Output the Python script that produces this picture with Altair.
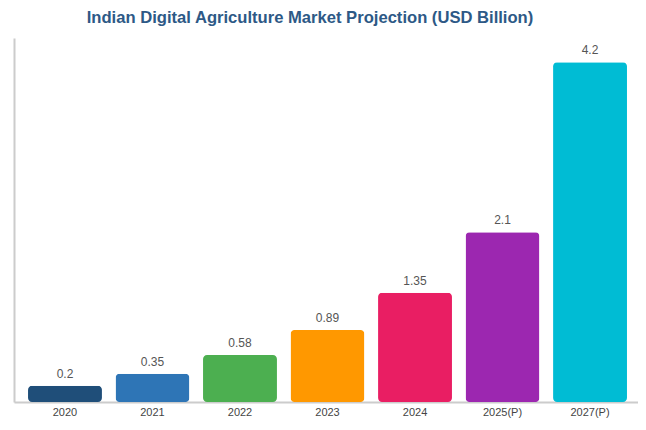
import altair as alt
import pandas as pd

years = ["2020", "2021", "2022", "2023", "2024", "2025(P)", "2027(P)"]
values = [0.2, 0.35, 0.58, 0.89, 1.35, 2.1, 4.2]
colors = ["#1f4e79", "#2e75b6", "#4caf50", "#ff9800", "#e91e63", "#9c27b0", "#00bcd4"]

df = pd.DataFrame({"year": years, "value": values, "label": [str(v) for v in values]})

FONT = "Liberation Sans"

x = alt.X("year:N", sort=years, title=None,
          scale=alt.Scale(paddingInner=0.155, paddingOuter=0.143, align=0.56),
          axis=alt.Axis(labelAngle=0, ticks=False, labelPadding=4, labelFontSize=11,
                        labelColor="#444444", labelFont=FONT, domainColor="#cccccc",
                        domainWidth=2, grid=False))
y = alt.Y("value:Q", title=None, scale=alt.Scale(domain=[0, 4.5], nice=False),
          axis=alt.Axis(labels=False, ticks=False, grid=False, domainColor="#cccccc",
                        domainWidth=2))

bars = alt.Chart(df).mark_bar(cornerRadius=4).encode(
    x=x, y=y,
    color=alt.Color("year:N", sort=years, scale=alt.Scale(domain=years, range=colors), legend=None),
)
text = alt.Chart(df).mark_text(baseline="bottom", dy=-5, fontSize=12, color="#555555", font=FONT).encode(
    x=alt.X("year:N", sort=years), y="value:Q", text="label:N"
)

chart = (bars + text).properties(
    width=624, height=364,
    padding={"left": 6, "top": 30, "right": 0, "bottom": 17},
    autosize=alt.AutoSizeParams(type="none"),
    title=alt.TitleParams("Indian Digital Agriculture Market Projection (USD Billion)",
                          font=FONT, fontSize=16.6, fontWeight="bold", color="#2d5986",
                          anchor="middle", dx=-16, offset=11),
).configure_view(stroke=None)

chart.save("out.html", embed_options={"renderer": "svg", "actions": False})
